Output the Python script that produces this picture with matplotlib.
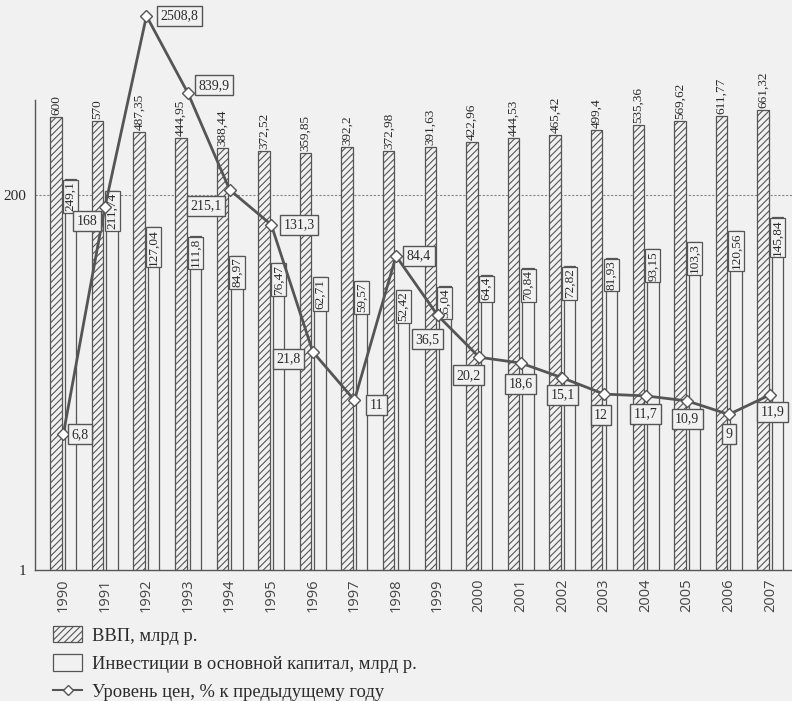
import matplotlib
matplotlib.use("Agg")
import matplotlib.pyplot as plt
from matplotlib.patches import Patch
from matplotlib.lines import Line2D
import numpy as np

years = ["1990", "1991", "1992", "1993", "1994", "1995", "1996", "1997", "1998",
         "1999", "2000", "2001", "2002", "2003", "2004", "2005", "2006", "2007"]
gdp = [600, 570, 487.35, 444.95, 388.44, 372.52, 359.85, 392.2, 372.98,
       391.63, 422.96, 444.53, 465.42, 499.4, 535.36, 569.62, 611.77, 661.32]
invest = [249.1, 211.74, 127.04, 111.8, 84.97, 76.47, 62.71, 59.57, 52.42,
          55.04, 64.4, 70.84, 72.82, 81.93, 93.15, 103.3, 120.56, 145.84]
prices = [6.8, 168, 2508.8, 839.9, 215.1, 131.3, 21.8, 11, 84.4,
          36.5, 20.2, 18.6, 15.1, 12, 11.7, 10.9, 9, 11.9]
legend_labels = ["ВВП, млрд р.", "Инвестиции в основной капитал, млрд р.",
                 "Уровень цен, % к предыдущему году"]

# label offsets for the price labels (pixels, x right / y up)
price_offsets = [(17, 0), (-18, -14), (33, 0), (26, 8), (-24, -16), (28, 0),
                 (-24, -7), (22, -5), (23, 0), (-10, -24), (-11, -18), (0, -21),
                 (0, -17), (-3, -21), (0, -18), (0, -18), (0, -20), (2, -17)]

BG = "#f1f1f1"
INK = "#555555"
TXT = "#2a2a2a"
serif = ["Liberation Serif", "DejaVu Serif"]

plt.rcParams["hatch.color"] = "#666666"
plt.rcParams["hatch.linewidth"] = 0.8

W, H = 792, 701
fig = plt.figure(figsize=(W / 100, H / 100), dpi=100, facecolor=BG)
ax = fig.add_axes([35 / W, (H - 570) / H, 1 - 35 / W, 570 / H])
ax.set_facecolor(BG)
ax.set_yscale("log")

x = np.arange(len(years))
bw = 0.275
off = 0.175

ax.bar(x - off, gdp, width=bw, facecolor=BG, edgecolor=INK, linewidth=0.9,
       hatch="/////", zorder=2)
ax.bar(x + off, invest, width=bw, facecolor=BG, edgecolor=INK, linewidth=0.9,
       zorder=2)

for xi, v in zip(x, gdp):
    ax.annotate(f"{v:g}".replace(".", ","), (xi - off, v), xytext=(0, 2),
                textcoords="offset pixels", rotation=90, ha="center", va="bottom",
                fontsize=9.5, family=serif, color=TXT, zorder=4)

for xi, v in zip(x, invest):
    ax.annotate(f"{v:g}".replace(".", ","), (xi + off, v), xytext=(0, -2),
                textcoords="offset pixels", rotation=90, ha="center", va="top",
                fontsize=9.5, family=serif, color=TXT, zorder=4,
                bbox=dict(boxstyle="square,pad=0.12", facecolor=BG,
                          edgecolor=INK, linewidth=0.9))

ax.plot(x, prices, color=INK, linewidth=2, marker="D", markersize=6,
        markerfacecolor="white", markeredgecolor=INK, markeredgewidth=1,
        zorder=5)

for xi, v, (dx, dy) in zip(x, prices, price_offsets):
    ax.annotate(f"{v:g}".replace(".", ","), (xi, v), xytext=(dx, dy),
                textcoords="offset pixels", ha="center", va="center",
                fontsize=10, family=serif, color=TXT, zorder=6,
                bbox=dict(boxstyle="square,pad=0.25", facecolor=BG,
                          edgecolor=INK, linewidth=1))

ax.axhline(200, color="#888888", linewidth=0.8, linestyle=(0, (2, 1.5)), zorder=1)

ax.set_xlim(-0.68, 17.52)
ax.set_ylim(1, 3140)
ax.set_yticks([1, 200])
ax.set_yticklabels(["1", "200"], family=serif, fontsize=11, color=TXT)
ax.yaxis.set_minor_locator(matplotlib.ticker.NullLocator())
ax.set_xticks(x)
ax.set_xticklabels(years, rotation=90, family=["Open Sans", "DejaVu Sans"],
                   fontsize=10.5, color="#444444")
ax.tick_params(length=0, pad=6)

for s in ["top", "right"]:
    ax.spines[s].set_visible(False)
ax.spines["left"].set_bounds(1, 760)
ax.spines["left"].set_color(INK)
ax.spines["bottom"].set_color(INK)
ax.spines["left"].set_linewidth(1)
ax.spines["bottom"].set_linewidth(1)

handles = [Patch(facecolor=BG, edgecolor=INK, hatch="/////", linewidth=0.9),
           Patch(facecolor=BG, edgecolor=INK, linewidth=0.9),
           Line2D([], [], color=INK, linewidth=1.5, marker="D", markersize=5,
                  markerfacecolor="white", markeredgecolor=INK)]
fig.legend(handles, legend_labels, loc="upper left",
           bbox_to_anchor=(40 / W, 1 - 613 / H), frameon=False,
           prop=dict(family=serif, size=13.3), handlelength=1.6, handleheight=1.0,
           handletextpad=0.5, labelspacing=0.52, labelcolor=TXT, borderpad=0.2)

fig.savefig("out.png", dpi=100, facecolor=BG)
